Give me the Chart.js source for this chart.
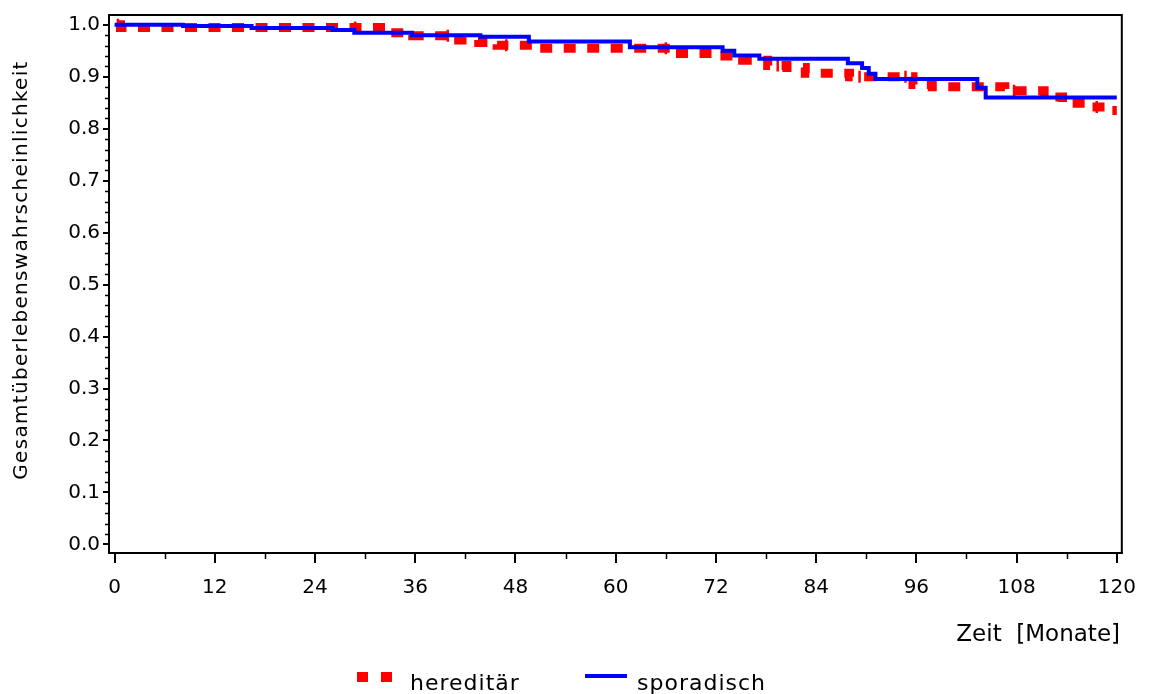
<!DOCTYPE html>
<html lang="de">
<head>
<meta charset="utf-8">
<title>Gesamtüberlebenswahrscheinlichkeit</title>
<script src="https://cdn.jsdelivr.net/npm/chart.js@4.4.1/dist/chart.umd.min.js"></script>
<style>
    html, body { margin: 0; padding: 0; background: #ffffff; }
    canvas { display: block; }
</style>
</head>
<body>
<canvas id="km-chart" width="1149" height="694"></canvas>
<script>
// --- Data ---
const X_TICKS = [0, 12, 24, 36, 48, 60, 72, 84, 96, 108, 120];
const Y_TICKS = [0.0, 0.1, 0.2, 0.3, 0.4, 0.5, 0.6, 0.7, 0.8, 0.9, 1.0];

// hereditär: step times (months) and survival after each step
const HERED_TIMES = [0, 0.7, 33.1, 35.7, 41.2, 43.6, 45.8, 50.6, 67.2, 72.5, 75.2, 78.2, 80.5, 82.7, 88.0, 95.6, 97.9, 106.6, 111.3, 113.5, 116.4, 119.0, 120];
const HERED_SURV  = [1.0, 0.995, 0.985, 0.979, 0.971, 0.966, 0.961, 0.955, 0.945, 0.940, 0.932, 0.922, 0.918, 0.907, 0.900, 0.885, 0.881, 0.873, 0.861, 0.849, 0.842, 0.835, 0.835];
// censored cases (vertical marks)
const HERED_CENSOR = [0.4, 28.8, 39.9, 46.9, 66.0, 79.4, 89.2, 94.7, 107.7, 117.6];

// sporadisch
const SPOR_TIMES = [0, 8.2, 16.4, 26.1, 28.7, 35.6, 43.8, 49.6, 61.7, 72.8, 74.2, 77.2, 87.8, 89.5, 90.3, 91.1, 103.3, 104.3, 120];
const SPOR_SURV  = [1.0, 0.998, 0.994, 0.990, 0.985, 0.980, 0.977, 0.968, 0.957, 0.950, 0.941, 0.935, 0.926, 0.917, 0.906, 0.896, 0.879, 0.860, 0.860];

const LABEL_Y = 'Gesamtüberlebenswahrscheinlichkeit';
const LABEL_X = 'Zeit  [Monate]';
const LEGEND_NAMES = ['hereditär', 'sporadisch'];

const RED = '#ff0000';
const BLUE = '#0000ff';
const FONT = '"DejaVu Sans", "Liberation Sans", sans-serif';

// survival value of a step curve at time t
function stepValueAt(times, surv, t) {
    let v = surv[0];
    for (let i = 0; i < times.length; i++) {
        if (times[i] <= t) v = surv[i];
    }
    return v;
}

const toPoints = (xs, ys) => xs.map((x, i) => ({ x: x, y: ys[i] }));

// frame, minor ticks, axis titles and legend
const kmDecorPlugin = {
    id: 'kmDecor',
    beforeDatasetsDraw(chart) {
        const { ctx, chartArea: a, scales } = chart;
        ctx.save();
        ctx.strokeStyle = '#000';
        ctx.lineWidth = 2;
        ctx.strokeRect(a.left, a.top, a.right - a.left, a.bottom - a.top);

        // minor ticks
        ctx.lineWidth = 1.5;
        ctx.beginPath();
        for (let m = 6; m < 120; m += 12) {
            const px = Math.round(scales.x.getPixelForValue(m)) + 0.5;
            ctx.moveTo(px, a.bottom);
            ctx.lineTo(px, a.bottom + 6);
        }
        for (let k = 1; k < 50; k++) {
            if (k % 5 === 0) continue;
            const py = Math.round(scales.y.getPixelForValue(k * 0.02)) + 0.5;
            ctx.moveTo(a.left, py);
            ctx.lineTo(a.left - 4, py);
        }
        ctx.stroke();
        ctx.restore();
    },
    afterDraw(chart) {
        const { ctx } = chart;
        const sets = chart.data.datasets;
        ctx.save();
        ctx.fillStyle = '#000';

        // y axis title
        ctx.save();
        ctx.translate(22, 270);
        ctx.rotate(-Math.PI / 2);
        ctx.font = '20px ' + FONT;
        ctx.letterSpacing = '1.3px';
        ctx.textAlign = 'center';
        ctx.textBaseline = 'middle';
        ctx.fillText(LABEL_Y, 0, 0);
        ctx.restore();

        // x axis title
        ctx.font = '23px ' + FONT;
        ctx.textAlign = 'right';
        ctx.textBaseline = 'middle';
        ctx.fillText(LABEL_X, 1120, 635);

        // legend
        ctx.textAlign = 'left';
        ctx.textBaseline = 'alphabetic';
        ctx.font = '22px ' + FONT;
        ctx.letterSpacing = '1px';

        ctx.save();
        ctx.strokeStyle = sets[0].borderColor;
        ctx.lineWidth = 10;
        ctx.setLineDash([11, 13]);
        ctx.beginPath();
        ctx.moveTo(357, 677);
        ctx.lineTo(393, 677);
        ctx.stroke();
        ctx.restore();
        ctx.fillText(LEGEND_NAMES[0], 410, 690);

        ctx.save();
        ctx.strokeStyle = sets[1].borderColor;
        ctx.lineWidth = 4;
        ctx.beginPath();
        ctx.moveTo(585, 676);
        ctx.lineTo(627, 676);
        ctx.stroke();
        ctx.restore();
        ctx.fillText(LEGEND_NAMES[1], 637, 690);

        ctx.restore();
    }
};

const ctx = document.getElementById('km-chart').getContext('2d');

new Chart(ctx, {
    type: 'line',
    data: {
        datasets: [
            {
                label: LEGEND_NAMES[0],
                data: toPoints(HERED_TIMES, HERED_SURV),
                borderColor: RED,
                borderWidth: 9,
                borderDash: [12, 11.5],
                borderDashOffset: 21,
                borderCapStyle: 'butt',
                stepped: 'before',
                pointRadius: 0,
                fill: false,
                order: 2
            },
            {
                label: LEGEND_NAMES[1],
                data: toPoints(SPOR_TIMES, SPOR_SURV),
                borderColor: BLUE,
                borderWidth: 4,
                borderCapStyle: 'butt',
                stepped: 'before',
                pointRadius: 0,
                fill: false,
                order: 0
            },
            {
                label: 'zensiert',
                data: HERED_CENSOR.map(t => ({ x: t, y: stepValueAt(HERED_TIMES, HERED_SURV, t) })),
                showLine: false,
                pointStyle: 'line',
                rotation: 90,
                pointRadius: 6,
                pointBorderColor: RED,
                pointBorderWidth: 2.5,
                borderColor: RED,
                order: 1
            }
        ]
    },
    options: {
        responsive: false,
        animation: false,
        layout: { padding: { top: 10, right: 24, left: 0, bottom: 0 } },
        plugins: {
            legend: { display: false },
            tooltip: { enabled: false }
        },
        scales: {
            x: {
                type: 'linear',
                min: -0.67,
                max: 120.6,
                afterBuildTicks: (axis) => { axis.ticks = X_TICKS.map(v => ({ value: v })); },
                afterFit: (axis) => { axis.height = 141; },
                ticks: {
                    color: '#000',
                    font: { family: FONT, size: 20 },
                    padding: 13,
                    maxRotation: 0,
                    autoSkip: false,
                    callback: (value) => String(value)
                },
                grid: { drawOnChartArea: false, color: '#000', tickColor: '#000', lineWidth: 2, tickLength: 10 },
                border: { display: true, color: '#000', width: 2 }
            },
            y: {
                type: 'linear',
                min: -0.0166,
                max: 1.019,
                afterBuildTicks: (axis) => { axis.ticks = Y_TICKS.map(v => ({ value: v })); },
                afterFit: (axis) => { axis.width = 109; },
                ticks: {
                    color: '#000',
                    font: { family: FONT, size: 20 },
                    padding: 3,
                    autoSkip: false,
                    callback: (value) => Number(value).toFixed(1)
                },
                grid: { drawOnChartArea: false, color: '#000', tickColor: '#000', lineWidth: 2, tickLength: 6 },
                border: { display: true, color: '#000', width: 2 }
            }
        }
    },
    plugins: [kmDecorPlugin]
});
</script>
</body>
</html>
